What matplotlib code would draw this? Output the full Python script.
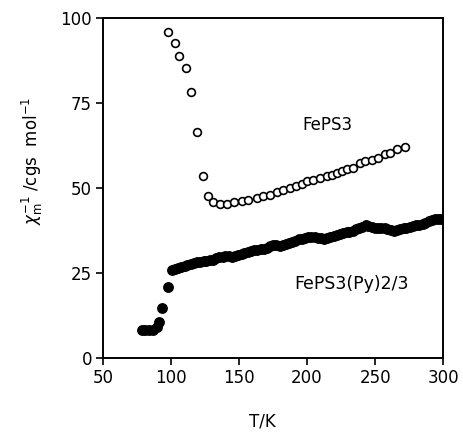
import matplotlib
matplotlib.use('Agg')
import matplotlib.pyplot as plt
import numpy as np

# FePS3 (open circles)
t_feps3 = [98, 102.9, 106.1, 111, 114.5, 118.9, 123.5, 127.5, 131, 136, 141, 146, 152,
           156.8, 163, 167.9, 172.8, 177.7, 182.6, 187.5, 192, 196, 199.8, 204.7, 209.6,
           214.5, 218.2, 221.8, 225.5, 229.2, 234.1, 239, 242.6, 247.6, 252.4, 257.4,
           260.9, 265.8, 272]
chi_feps3 = [95.8, 92.8, 88.8, 85.3, 78.3, 66.5, 53.6, 47.6, 45.9, 45.4, 45.4, 45.9, 46.1,
             46.6, 47.1, 47.6, 48.1, 48.8, 49.4, 49.9, 50.7, 51.2, 52.0, 52.5, 53.0,
             53.5, 54.0, 54.5, 55.0, 55.5, 56.0, 57.4, 57.9, 58.2, 58.9, 59.9,
             60.4, 61.4, 62.1]

# FePS3(Py)2/3 (filled circles)
t_py = [78.5, 81, 84, 87, 90, 91.5, 93.5, 98,
        101, 103, 105, 107.5, 110, 112, 114.5, 117, 119, 121.5, 124, 126, 128.5, 131, 133,
        135.5, 138, 140, 142.5, 145, 147, 149.5, 152, 154, 156.5, 159, 161, 163.5, 166, 168,
        170.5, 173, 175, 177.5, 180, 182, 184.5, 187, 189, 191.5, 194, 196, 198.5, 201, 203,
        205.5, 208, 210, 212.5, 215, 217, 219.5, 222, 224, 226.5, 229, 231, 233.5, 236, 238,
        240.5, 243, 245, 247.5, 250, 252, 254.5, 257, 259, 261.5, 264, 266, 268.5, 271, 273,
        275.5, 278, 280, 282.5, 285, 287, 289.5, 292, 294, 296.5, 298.5]
chi_py = [8.3, 8.3, 8.3, 8.4, 9.2, 10.5, 14.8, 20.9,
          25.8, 26.3, 26.6, 26.9, 27.2, 27.5, 27.8, 28.1, 28.2, 28.4, 28.5, 28.6, 28.8, 29.0, 29.3,
          29.6, 29.8, 30.1, 30.0, 29.7, 29.9, 30.3, 30.6, 30.9, 31.2, 31.4, 31.7, 31.9, 32.1, 32.2,
          32.4, 32.9, 33.3, 33.2, 33.0, 33.2, 33.5, 33.9, 34.2, 34.5, 34.9, 35.1, 35.3, 35.5, 35.6,
          35.5, 35.4, 35.2, 34.9, 35.3, 35.7, 36.0, 36.3, 36.5, 36.8, 37.0, 37.2, 37.5, 37.9, 38.3,
          38.7, 39.1, 38.9, 38.5, 38.3, 38.2, 38.2, 38.3, 38.1, 37.7, 37.5, 37.8, 38.0, 38.2, 38.3,
          38.6, 38.9, 39.1, 39.2, 39.5, 39.8, 40.2, 40.6, 40.8, 40.9, 41.0]

xticks = [50, 100, 150, 200, 250, 300]
yticks = [0, 25, 50, 75, 100]

plt.rcParams['font.family'] = ['DejaVu Sans']

fig = plt.figure(figsize=(4.63, 4.33), dpi=100)
ax = fig.add_axes([0.2225, 0.173, 0.7345, 0.785])

ax.plot(t_py, chi_py, 'o', ms=6.8, color='black', mec='black')
ax.plot(t_feps3, chi_feps3, 'o', ms=5.6, mfc='white', mec='black', mew=1.2)

ax.set_xlim(50, 300)
ax.set_ylim(0, 100)
ax.set_xticks(xticks)
ax.set_yticks(yticks)
ax.tick_params(direction='out', length=5, width=1.2, labelsize=12, pad=3)
for s in ax.spines.values():
    s.set_linewidth(1.4)

ax.text(215, 68.5, 'FePS3', fontsize=12, ha='center', va='center')
ax.text(233, 21.8, 'FePS3(Py)2/3', fontsize=12.5, ha='center', va='center')

ax.set_xlabel('T/K', fontsize=12)
ax.xaxis.set_label_coords(0.47, -0.16)
ax.set_ylabel(r'$\chi_{\rm m}^{-1}$ /cgs  mol$^{-1}$', fontsize=12)
ax.yaxis.set_label_coords(-0.17, 0.58)

fig.savefig('out.png', dpi=100)
